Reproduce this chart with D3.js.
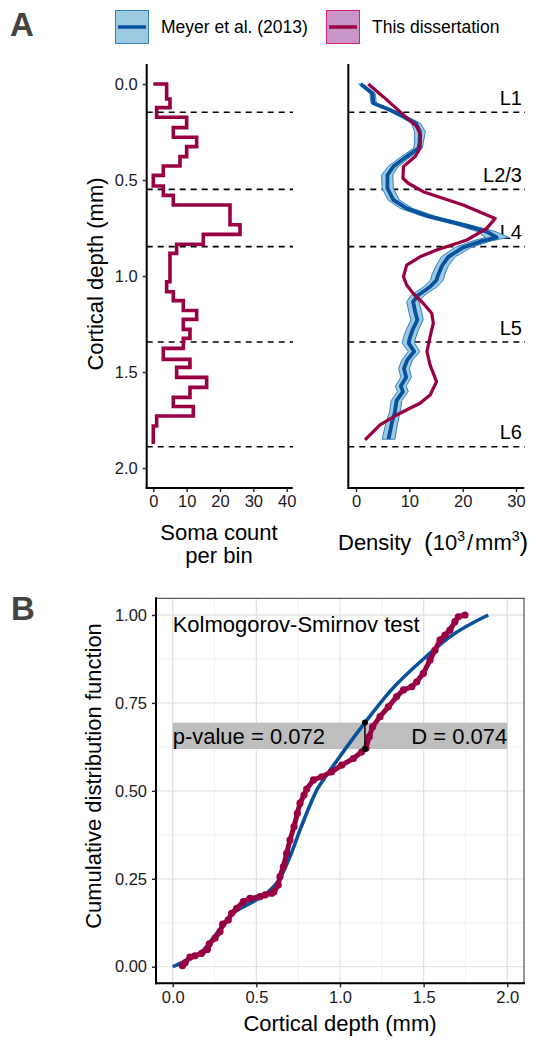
<!DOCTYPE html>
<html><head><meta charset="utf-8">
<script src="https://cdn.jsdelivr.net/npm/d3@7"></script>
<style>body{margin:0;background:#fff} svg{display:block;font-family:"Liberation Sans",Arial,sans-serif}</style>
</head><body><svg id="c" width="536" height="1041"></svg>
<script>
// ---------- DATA ----------
// Panel A left: histogram of soma depth (bin edges in mm, counts per bin)
const binEdges = [0.0, 0.078, 0.123, 0.173, 0.227, 0.277, 0.326, 0.378, 0.427, 0.476, 0.531, 0.580, 0.630, 0.682, 0.733, 0.783, 0.835, 0.882, 0.932, 0.981, 1.030, 1.082, 1.128, 1.180, 1.226, 1.278, 1.325, 1.377, 1.434, 1.476, 1.528, 1.580, 1.632, 1.680, 1.729, 1.781, 1.875];
const somaCounts = [4, 5, 1, 10, 6, 13, 10, 8, 3, 0, 3, 6, 23, 23, 26, 15, 7, 5, 5, 5, 4, 6, 9, 13, 9, 11, 9, 3, 11, 7, 16, 11, 6, 12, 1, 0];

// Layer boundaries (mm) and names
const layerBounds = [0.147, 0.549, 0.847, 1.344, 1.889];
const layerNames = ["L1", "L2/3", "L4", "L5", "L6"];

// Panel A right: Meyer et al. (2013) density (mean, lower, upper), 10^3/mm^3
const meyerDepth = [0.0, 0.049, 0.10, 0.135, 0.174, 0.205, 0.248, 0.309, 0.335, 0.378, 0.43, 0.474, 0.543, 0.604, 0.648, 0.691, 0.734, 0.769, 0.799, 0.816, 0.851, 0.9, 0.948, 0.995, 1.021, 1.056, 1.099, 1.134, 1.186, 1.229, 1.281, 1.33, 1.351, 1.394, 1.4375, 1.481, 1.528, 1.573, 1.602, 1.649, 1.707, 1.767, 1.85];
const meyerMean  = [0.9, 3.1, 3.25, 6.4, 9.2, 11.25, 12.0, 11.9, 11.7, 9.5, 7.0, 5.9, 5.9, 7.0, 9.5, 13.9, 20.1, 24.5, 26.4, 23.9, 20.1, 17.3, 16.1, 15.4, 15.1, 13.9, 11.7, 10.7, 11.1, 11.5, 10.6, 10.0, 9.9, 10.9, 9.6, 9.0, 9.4, 8.4, 8.8, 7.6, 7.3, 6.7, 6.1];
const meyerLow   = [0.5, 2.6, 2.8, 5.8, 8.5, 10.4, 11.0, 11.0, 10.8, 8.5, 6.0, 4.8, 4.9, 6.0, 8.3, 12.7, 18.8, 22.8, 24.3, 22.0, 18.6, 16.0, 15.0, 14.2, 14.0, 12.7, 10.4, 9.5, 9.9, 10.3, 9.4, 8.8, 8.7, 9.8, 8.6, 8.0, 8.4, 7.4, 7.8, 6.6, 6.3, 5.6, 4.9];
const meyerHigh  = [1.3, 3.6, 3.8, 7.0, 9.9, 12.1, 13.0, 12.6, 12.4, 10.3, 7.9, 6.9, 7.0, 8.1, 10.6, 15.1, 21.4, 26.2, 28.6, 25.5, 21.6, 18.6, 17.3, 16.6, 16.4, 15.2, 12.9, 11.8, 12.3, 12.6, 11.7, 11.1, 11.0, 12.0, 10.6, 10.0, 10.4, 9.4, 9.8, 8.6, 8.3, 7.8, 7.3];

// Panel A right: this dissertation density
const dissDepth   = [0.0, 0.066, 0.153, 0.222, 0.266, 0.335, 0.378, 0.43, 0.491, 0.517, 0.561, 0.63, 0.70, 0.752, 0.8125, 0.865, 0.90, 0.943, 1.003, 1.047, 1.09, 1.142, 1.194, 1.246, 1.316, 1.394, 1.464, 1.55, 1.62, 1.663, 1.724, 1.776, 1.854];
const dissDensity = [2.3, 5.1, 8.6, 11.4, 12.1, 12.0, 11.1, 8.9, 8.8, 9.8, 12.6, 20.1, 26.1, 24.5, 20.8, 15.1, 12.0, 9.5, 8.9, 9.5, 10.7, 12.6, 14.2, 14.5, 13.9, 13.3, 13.9, 15.1, 13.9, 12.0, 7.6, 4.5, 1.7];

// Panel B: theoretical CDF (Meyer) and empirical CDF (this dissertation)
const theoDepth = [0.0, 0.064, 0.183, 0.263, 0.362, 0.462, 0.562, 0.641, 0.701, 0.761, 0.821, 0.861, 0.9, 0.98, 1.149, 1.299, 1.518, 1.657, 1.886];
const theoCdf   = [0.0, 0.014, 0.047, 0.095, 0.152, 0.18, 0.209, 0.251, 0.313, 0.389, 0.46, 0.502, 0.531, 0.585, 0.694, 0.783, 0.883, 0.938, 1.0];
const empDepth = [0.058, 0.074, 0.103, 0.133, 0.173, 0.207, 0.219, 0.253, 0.283, 0.299, 0.332, 0.352, 0.383, 0.422, 0.462, 0.522, 0.552, 0.592, 0.605, 0.631, 0.641, 0.661, 0.681, 0.701, 0.725, 0.745, 0.761, 0.785, 0.801, 0.841, 0.891, 0.95, 1.01, 1.08, 1.13, 1.155, 1.175, 1.195, 1.239, 1.289, 1.339, 1.379, 1.429, 1.459, 1.498, 1.538, 1.568, 1.598, 1.628, 1.657, 1.687, 1.707, 1.747];
const empCdf   = [0.003, 0.011, 0.027, 0.031, 0.038, 0.049, 0.065, 0.081, 0.10, 0.121, 0.133, 0.152, 0.166, 0.185, 0.194, 0.199, 0.204, 0.209, 0.213, 0.232, 0.256, 0.284, 0.322, 0.36, 0.398, 0.436, 0.465, 0.488, 0.505, 0.531, 0.54, 0.554, 0.573, 0.592, 0.611, 0.621, 0.654, 0.682, 0.711, 0.739, 0.768, 0.787, 0.796, 0.81, 0.834, 0.872, 0.90, 0.929, 0.943, 0.957, 0.981, 0.995, 1.0];

// KS test result
const ksLabels = ["p-value = 0.072", "D = 0.074"];
const ksDepth = 1.149;
const ksRange = [0.619, 0.694];

// Tick values
const depthTicksA = [0, 0.5, 1.0, 1.5, 2.0];
const countTicks = [0, 10, 20, 30, 40];
const densTicks = [0, 10, 20, 30];
const cdfTicks = [0, 0.25, 0.5, 0.75, 1.0];
const depthTicksB = [0, 0.5, 1.0, 1.5, 2.0];

// ---------- STYLE ----------
const maroon = "#980043", blue = "#08519c", ribFill = "#9ecae1", ribEdge = "#3182bd";
const svg = d3.select("#c");
const tickFont = 16.5, titleFont = 22;

// ---------- PANEL A ----------
const aTop = 65, aBot = 488;
const yA = d3.scaleLinear().domain([0, 2]).range([84, 468]);
const xH = d3.scaleLinear().domain([0, 40]).range([153.3, 286.7]);
const xD = d3.scaleLinear().domain([0, 30]).range([356, 516]);
const hL = 146.7, hR = 291.7, dL = 348.3, dR = 523.3;

// dashed layer lines
const dashG = svg.append("g");
[[hL, 293], [dL, 525]].forEach(([x0, x1]) => {
  dashG.selectAll(null).data(layerBounds).join("line")
    .attr("x1", x0).attr("x2", x1)
    .attr("y1", d => yA(d)).attr("y2", d => yA(d))
    .attr("stroke", "#000").attr("stroke-width", 1.6).attr("stroke-dasharray", "6,5");
});
// layer labels
svg.append("g").selectAll("text").data(layerNames).join("text")
  .attr("x", 522).attr("y", (d, i) => yA(layerBounds[i]) - 7.5)
  .attr("text-anchor", "end").attr("font-size", 20).attr("fill", "#000").text(d => d);

// histogram step line
const stepPts = [[0, binEdges[0]]];
somaCounts.forEach((c, i) => { stepPts.push([c, binEdges[i]]); stepPts.push([c, binEdges[i + 1]]); });
svg.append("path").datum(stepPts)
  .attr("d", d3.line().x(d => xH(d[0])).y(d => yA(d[1])))
  .attr("fill", "none").attr("stroke", maroon).attr("stroke-width", 3.6).attr("stroke-linejoin", "miter");

// Meyer ribbon + line
const meyer = meyerDepth.map((d, i) => ({d, m: meyerMean[i], lo: meyerLow[i], hi: meyerHigh[i]}));
svg.append("path").datum(meyer)
  .attr("d", d3.area().y(d => yA(d.d)).x0(d => xD(d.lo)).x1(d => xD(d.hi)))
  .attr("fill", ribFill).attr("stroke", ribEdge).attr("stroke-width", 1);
svg.append("path").datum(meyer)
  .attr("d", d3.line().x(d => xD(d.m)).y(d => yA(d.d)))
  .attr("fill", "none").attr("stroke", blue).attr("stroke-width", 3.8).attr("stroke-linejoin", "round");
// dissertation line
svg.append("path").datum(dissDepth.map((d, i) => [dissDensity[i], d]))
  .attr("d", d3.line().x(d => xD(d[0])).y(d => yA(d[1])))
  .attr("fill", "none").attr("stroke", maroon).attr("stroke-width", 3.2).attr("stroke-linejoin", "round");

// axes lines
const axLine = (x1, y1, x2, y2) => svg.append("line").attr("x1", x1).attr("y1", y1).attr("x2", x2).attr("y2", y2)
  .attr("stroke", "#000").attr("stroke-width", 2).attr("stroke-linecap", "square");
axLine(hL, aTop, hL, aBot); axLine(hL, aBot, hR, aBot);
axLine(dL, aTop, dL, aBot); axLine(dL, aBot, dR, aBot);

function styleAxis(g) {
  g.select(".domain").remove();
  g.selectAll(".tick line").attr("stroke", "#222").attr("stroke-width", 1.4);
  g.selectAll(".tick text").attr("font-size", tickFont).attr("fill", "#1a1a1a").attr("font-family", '"Liberation Sans", Arial, sans-serif');
}
svg.append("g").attr("transform", `translate(${hL},0)`)
  .call(d3.axisLeft(yA).tickValues(depthTicksA).tickFormat(d3.format(".1f")).tickSize(4).tickPadding(5)).call(styleAxis);
svg.append("g").attr("transform", `translate(0,${aBot})`)
  .call(d3.axisBottom(xH).tickValues(countTicks).tickSize(4).tickPadding(3)).call(styleAxis);
svg.append("g").attr("transform", `translate(0,${aBot})`)
  .call(d3.axisBottom(xD).tickValues(densTicks).tickSize(4).tickPadding(3)).call(styleAxis);

// titles A
svg.append("text").attr("transform", "translate(103,274) rotate(-90)").attr("text-anchor", "middle")
  .attr("font-size", titleFont).attr("fill", "#000").text("Cortical depth (mm)");
svg.append("text").attr("x", 219).attr("y", 540).attr("text-anchor", "middle").attr("font-size", titleFont).text("Soma count");
svg.append("text").attr("x", 219).attr("y", 563).attr("text-anchor", "middle").attr("font-size", titleFont).text("per bin");
svg.append("text").attr("x", 338).attr("y", 550).attr("font-size", titleFont).text("Density");
const dens = svg.append("text").attr("x", 424).attr("y", 550).attr("font-size", titleFont);
dens.append("tspan").attr("font-size", 26).attr("dy", 1).text("(");
dens.append("tspan").attr("dy", -1).text("10");
dens.append("tspan").attr("font-size", 14).attr("dy", -9).text("3");
dens.append("tspan").attr("dy", 9).attr("dx", 2).text("/");
dens.append("tspan").attr("dx", 2).text("mm");
dens.append("tspan").attr("font-size", 14).attr("dy", -9).text("3");
dens.append("tspan").attr("font-size", 26).attr("dy", 10).text(")");

// panel letters
svg.append("text").attr("x", 10).attr("y", 36).attr("font-size", 33).attr("font-weight", "bold").attr("fill", "#444").text("A");
svg.append("text").attr("x", 11).attr("y", 620).attr("font-size", 33).attr("font-weight", "bold").attr("fill", "#444").text("B");

// legend
const legendItems = [
  {label: "Meyer et al. (2013)", fill: "#9ecae1", edge: "#3182bd", line: blue, x: 115},
  {label: "This dissertation", fill: "#c994c7", edge: "#dd1c77", line: maroon, x: 326}
];
const lg = svg.append("g").selectAll("g").data(legendItems).join("g").attr("transform", d => `translate(${d.x},10)`);
lg.append("rect").attr("x", 0.5).attr("y", 0.5).attr("width", 33).attr("height", 33).attr("fill", d => d.fill).attr("stroke", d => d.edge).attr("stroke-width", 1);
lg.append("line").attr("x1", 3).attr("x2", 31).attr("y1", 17).attr("y2", 17).attr("stroke", d => d.line).attr("stroke-width", 3.5);
lg.append("text").attr("x", 46).attr("y", 23.3).attr("font-size", 17.5).attr("fill", "#000").text(d => d.label);

// ---------- PANEL B ----------
const bL = 156, bR = 524, bT = 598.3, bB = 983.3;
const xB = d3.scaleLinear().domain([0, 2]).range([172.7, 507.3]);
const yB = d3.scaleLinear().domain([0, 1]).range([966.7, 615]);
const gridG = svg.append("g");
const minorX = [0.25, 0.75, 1.25, 1.75], minorY = [0.125, 0.375, 0.625, 0.875];
gridG.selectAll(".mx").data(minorX).join("line").attr("x1", d => xB(d)).attr("x2", d => xB(d)).attr("y1", bT).attr("y2", bB).attr("stroke", "#f0f0f0").attr("stroke-width", 1);
gridG.selectAll(".my").data(minorY).join("line").attr("y1", d => yB(d)).attr("y2", d => yB(d)).attr("x1", bL).attr("x2", bR).attr("stroke", "#f0f0f0").attr("stroke-width", 1);
gridG.selectAll(".Mx").data(depthTicksB).join("line").attr("x1", d => xB(d)).attr("x2", d => xB(d)).attr("y1", bT).attr("y2", bB).attr("stroke", "#e3e3e3").attr("stroke-width", 1.3);
gridG.selectAll(".My").data(cdfTicks).join("line").attr("y1", d => yB(d)).attr("y2", d => yB(d)).attr("x1", bL).attr("x2", bR).attr("stroke", "#e3e3e3").attr("stroke-width", 1.3);

// grey band
svg.append("rect").attr("x", xB(0)).attr("width", xB(2) - xB(0))
  .attr("y", yB(ksRange[1])).attr("height", yB(ksRange[0]) - yB(ksRange[1])).attr("fill", "#bebebe");

// theoretical CDF
svg.append("path").datum(theoDepth.map((d, i) => [d, theoCdf[i]]))
  .attr("d", d3.line().x(d => xB(d[0])).y(d => yB(d[1])).curve(d3.curveMonotoneX))
  .attr("fill", "none").attr("stroke", blue).attr("stroke-width", 3.6);
// empirical CDF
const emp = empDepth.map((d, i) => [d, empCdf[i]]);
svg.append("path").datum(emp)
  .attr("d", d3.line().x(d => xB(d[0])).y(d => yB(d[1])))
  .attr("fill", "none").attr("stroke", maroon).attr("stroke-width", 5).attr("stroke-linejoin", "round");
svg.append("g").selectAll("circle").data(emp).join("circle")
  .attr("cx", d => xB(d[0])).attr("cy", d => yB(d[1])).attr("r", 3.6).attr("fill", maroon);

// KS segment
svg.append("line").attr("x1", xB(ksDepth)).attr("x2", xB(ksDepth)).attr("y1", yB(ksRange[0])).attr("y2", yB(ksRange[1]))
  .attr("stroke", "#000").attr("stroke-width", 1.5);
svg.append("g").selectAll("circle").data(ksRange).join("circle")
  .attr("cx", xB(ksDepth)).attr("cy", d => yB(d)).attr("r", 3).attr("fill", "#000");

// texts
svg.append("text").attr("x", xB(0)).attr("y", 631.5).attr("font-size", titleFont).text("Kolmogorov-Smirnov test");
svg.append("text").attr("x", xB(0)).attr("y", 743.5).attr("font-size", titleFont).text(ksLabels[0]);
svg.append("text").attr("x", xB(2)).attr("y", 743.5).attr("text-anchor", "end").attr("font-size", titleFont).text(ksLabels[1]);

// border and axes
svg.append("rect").attr("x", bL).attr("y", bT).attr("width", bR - bL).attr("height", bB - bT).attr("fill", "none").attr("stroke", "#333").attr("stroke-width", 1);
axLine(bL, bT, bL, bB); axLine(bL, bB, bR, bB);
svg.append("g").attr("transform", `translate(${bL},0)`)
  .call(d3.axisLeft(yB).tickValues(cdfTicks).tickFormat(d3.format(".2f")).tickSize(4).tickPadding(5)).call(styleAxis);
svg.append("g").attr("transform", `translate(0,${bB})`)
  .call(d3.axisBottom(xB).tickValues(depthTicksB).tickFormat(d3.format(".1f")).tickSize(4).tickPadding(4)).call(styleAxis);
svg.append("text").attr("x", 340).attr("y", 1031).attr("text-anchor", "middle").attr("font-size", titleFont).text("Cortical depth (mm)");
svg.append("text").attr("transform", "translate(101,776) rotate(-90)").attr("text-anchor", "middle")
  .attr("font-size", titleFont).text("Cumulative distribution function");
</script></body></html>
